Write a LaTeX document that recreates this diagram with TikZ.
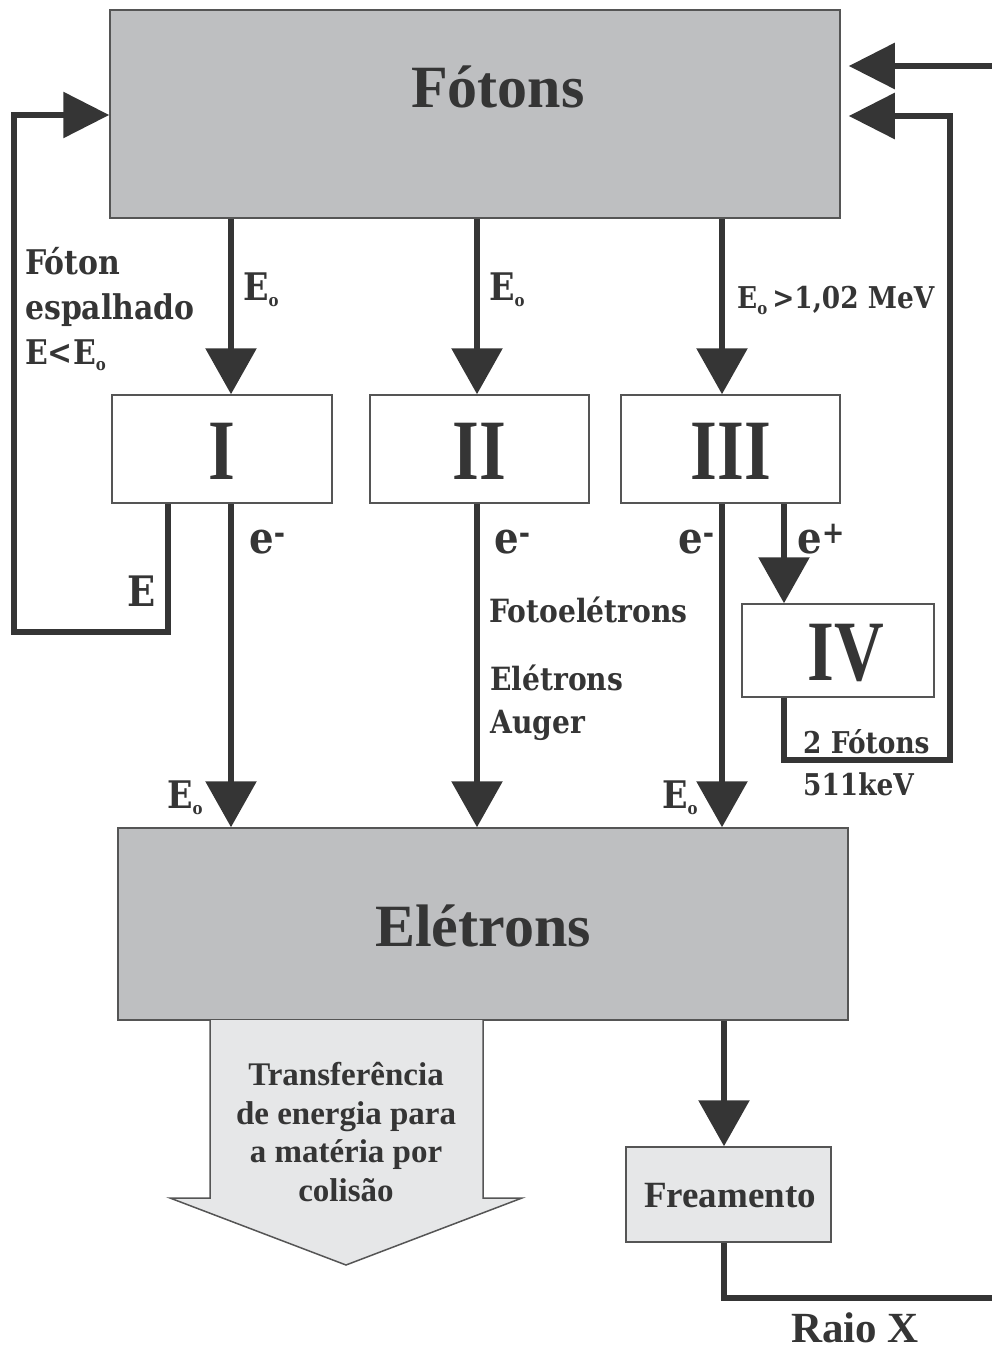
\documentclass[tikz,border=0pt]{standalone}
\usepackage{fontspec}
\setmainfont{Liberation Serif}
\newfontfamily\labfont[FakeStretch=0.88]{DejaVu Serif}
\newfontfamily\numfont[FakeStretch=0.8]{Liberation Serif}
\usetikzlibrary{arrows.meta}
\definecolor{ink}{HTML}{353535}
\definecolor{boxgray}{HTML}{BEBFC1}
\definecolor{palegray}{HTML}{E6E7E8}
\definecolor{edge}{HTML}{555555}
\newcommand{\Eo}{E\raisebox{-6pt}{\fontsize{17}{17}\selectfont o}}
\begin{document}
\begin{tikzpicture}[x=1pt,y=-1pt,
  bigbox/.style={draw=edge, line width=1.5pt, fill=boxgray, inner sep=0pt},
  procbox/.style={draw=edge, line width=1.5pt, fill=white, inner sep=0pt},
  numtxt/.style={font=\numfont\bfseries\fontsize{86}{86}\selectfont, text=ink, inner sep=0pt, anchor=base},
  titletxt/.style={font=\bfseries\fontsize{60}{60}\selectfont, text=ink, inner sep=0pt, anchor=base},
  conn/.style={draw=ink, line width=6pt},
  arr/.style={conn, -{Triangle[length=46pt,width=50pt]}},
  harr/.style={conn, -{Triangle[length=46pt,width=45pt]}},
  lab/.style={font=\labfont\bfseries\fontsize{32}{45}\selectfont, text=ink, inner sep=0pt, anchor=base west, align=left},
  biglab/.style={lab, font=\labfont\bfseries\fontsize{38}{45}\selectfont},
  elab/.style={lab, font=\labfont\bfseries\fontsize{44}{45}\selectfont},
]
\useasboundingbox (0,0) rectangle (992,1351);

% main boxes
\node[bigbox, minimum width=730pt, minimum height=208pt] (fot) at (475,114) {};
\node[titletxt] (fottxt) at (498,108) {Fótons};
\node[procbox, minimum width=220pt, minimum height=108pt] (I) at (222,449) {};
\node[procbox, minimum width=219pt, minimum height=108pt] (II) at (479.5,449) {};
\node[procbox, minimum width=219pt, minimum height=108pt] (III) at (730.5,449) {};
\node[procbox, minimum width=192pt, minimum height=93pt] (IV) at (838,650.5) {};
\node[numtxt] (Itxt) at (222,479) {I};
\node[numtxt] (IItxt) at (479.5,479) {II};
\node[numtxt] (IIItxt) at (731,479) {III};
\node[numtxt] (IVtxt) at (846,680) {IV};
\node[bigbox, minimum width=730pt, minimum height=192pt] (ele) at (483,924) {};
\node[titletxt] (eletxt) at (483,946) {Elétrons};
\node[procbox, fill=palegray, minimum width=205pt, minimum height=95pt] (frea) at (728.5,1194.5) {};
\node[titletxt, font=\bfseries\fontsize{37}{37}\selectfont] (freatxt) at (730,1207) {Freamento};

% hollow transfer arrow
\draw[draw=edge, line width=1.5pt, fill=palegray, line join=miter]
  (210,1020) -- (210,1198) -- (170,1198) -- (346,1265) -- (522,1198) -- (483,1198) -- (483,1020);
\node[font=\bfseries\fontsize{33}{38.5}\selectfont, text=ink, align=center, inner sep=0pt, anchor=base] (transf) at (346,1201)
  {Transferência\\de energia para\\a matéria por\\colisão};

% x positions
\coordinate (xa) at (231,0);
\coordinate (xb) at (477,0);
\coordinate (xc) at (722,0);
\coordinate (xd) at (784,0);
\coordinate (xl) at (168,0);
\coordinate (xe) at (724,0);
\coordinate (loopL) at (14,632);
\coordinate (loopLtop) at (14,115);
\coordinate (loopR) at (950,760);
\coordinate (loopRtop) at (950,116);
\coordinate (inR) at (992,66);
\coordinate (outX) at (992,1298);

% connectors
\draw[arr] (fot.south -| xa) -- (I.north -| xa);
\draw[arr] (fot.south -| xb) -- (II.north -| xb);
\draw[arr] (fot.south -| xc) -- (III.north -| xc);
\draw[arr] (I.south -| xa) -- (ele.north -| xa);
\draw[arr] (II.south -| xb) -- (ele.north -| xb);
\draw[arr] (III.south -| xc) -- (ele.north -| xc);
\draw[arr] (III.south -| xd) -- (IV.north -| xd);
\draw[harr] (I.south -| xl) |- (loopL) -- (loopLtop) -- (fot.west |- loopLtop);
\draw[harr] (IV.south -| xd) |- (loopR) -- (loopRtop) -- ([xshift=8pt]fot.east |- loopRtop);
\draw[harr] (inR) -- ([xshift=8pt]fot.east |- inR);
\draw[arr] (ele.south -| xe) -- (frea.north -| xe);
\draw[conn] (frea.south -| xe) |- (outX);

% labels
\node[lab, font=\labfont\bfseries\fontsize{34}{45}\selectfont] (lscat) at (25,364) {Fóton\\espalhado\\E<\Eo};
\node[biglab] (lEa) at (243,300) {\Eo};
\node[biglab] (lEb) at (489,300) {\Eo};
\node[lab, font=\labfont\bfseries\fontsize{30}{45}\selectfont] (lEc) at (737,308) {\Eo\,>1,02 MeV};
\node[elab] (lea) at (249,553) {e\textsuperscript{-}};
\node[elab] (leb) at (494,553) {e\textsuperscript{-}};
\node[elab] (lec) at (678,553) {e\textsuperscript{-}};
\node[elab] (led) at (797,553) {e\textsuperscript{+}};
\node[lab, font=\labfont\bfseries\fontsize{42}{45}\selectfont] (lE) at (127,606) {E};
\node[lab] (lfoto) at (489,622) {Fotoelétrons};
\node[lab, font=\labfont\bfseries\fontsize{32}{43}\selectfont] (laug) at (490,733) {Elétrons\\Auger};
\node[lab, font=\labfont\bfseries\fontsize{30}{42}\selectfont] (l511) at (803,795) {2 Fótons\\511keV};
\node[biglab] (lEd) at (167,808) {\Eo};
\node[biglab] (lEe) at (662,808) {\Eo};
\node[titletxt, font=\bfseries\fontsize{43}{43}\selectfont] (raio) at (855,1342) {Raio X};
\end{tikzpicture}
\end{document}
